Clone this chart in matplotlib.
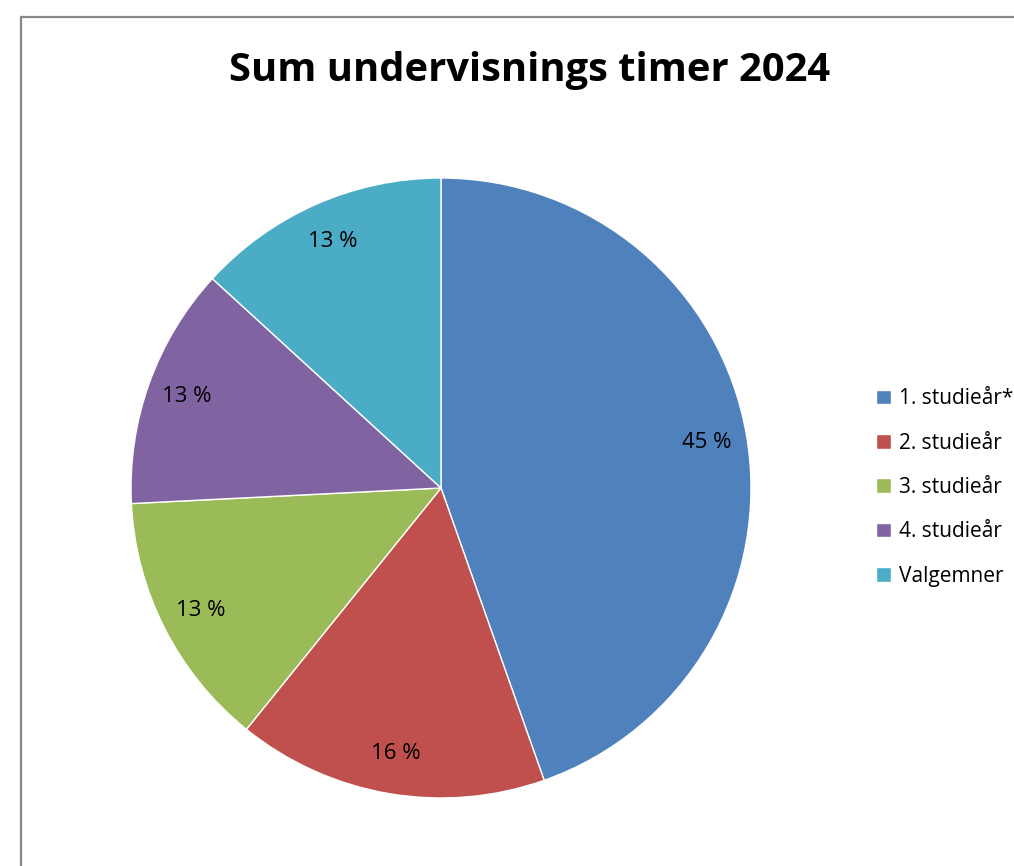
import matplotlib.pyplot as plt
from matplotlib.patches import Rectangle

# data (percent of total teaching hours)
labels = ['1. studieår*', '2. studieår', '3. studieår', '4. studieår', 'Valgemner']
values = [44.6, 16.2, 13.4, 12.6, 13.2]
colors = ['#4F81BD', '#C0504D', '#9BBB59', '#8064A2', '#4BACC6']

plt.rcParams['font.family'] = ['Open Sans', 'DejaVu Sans']

fig = plt.figure(figsize=(10.14, 8.66), dpi=100)
W, H = 1014, 866

# grey frame of the chart area (runs off the right and bottom edge)
fig.patches.append(Rectangle((21 / W, -0.1), 1.2, (866 - 17) / H + 0.1,
                             transform=fig.transFigure, fill=False,
                             edgecolor='#888888', linewidth=1.6))

cx, cy, r = 441, 488, 310
ax = fig.add_axes([(cx - r) / W, (H - cy - r) / H, 2 * r / W, 2 * r / H])
wedges, texts, autotexts = ax.pie(
    values, colors=colors, startangle=90, counterclock=False,
    autopct=lambda p: f'{p:.0f} %', pctdistance=0.87, radius=1,
    wedgeprops=dict(edgecolor='white', linewidth=1),
    textprops=dict(fontsize=16, color='black'))
ax.set_aspect('equal')
ax.set_xlim(-1, 1)
ax.set_ylim(-1, 1)

fig.text(530 / W, 1 - 71 / H, 'Sum undervisnings timer 2024',
         ha='center', va='center', fontsize=28.7, fontweight='bold')

fig.legend(wedges, labels, loc='upper left',
           bbox_to_anchor=(868 / W, 1 - 380 / H), frameon=False,
           fontsize=15, handlelength=0.7, handleheight=0.7,
           handletextpad=0.4, labelspacing=1.12, borderaxespad=0)

fig.savefig('out.png', dpi=100)
